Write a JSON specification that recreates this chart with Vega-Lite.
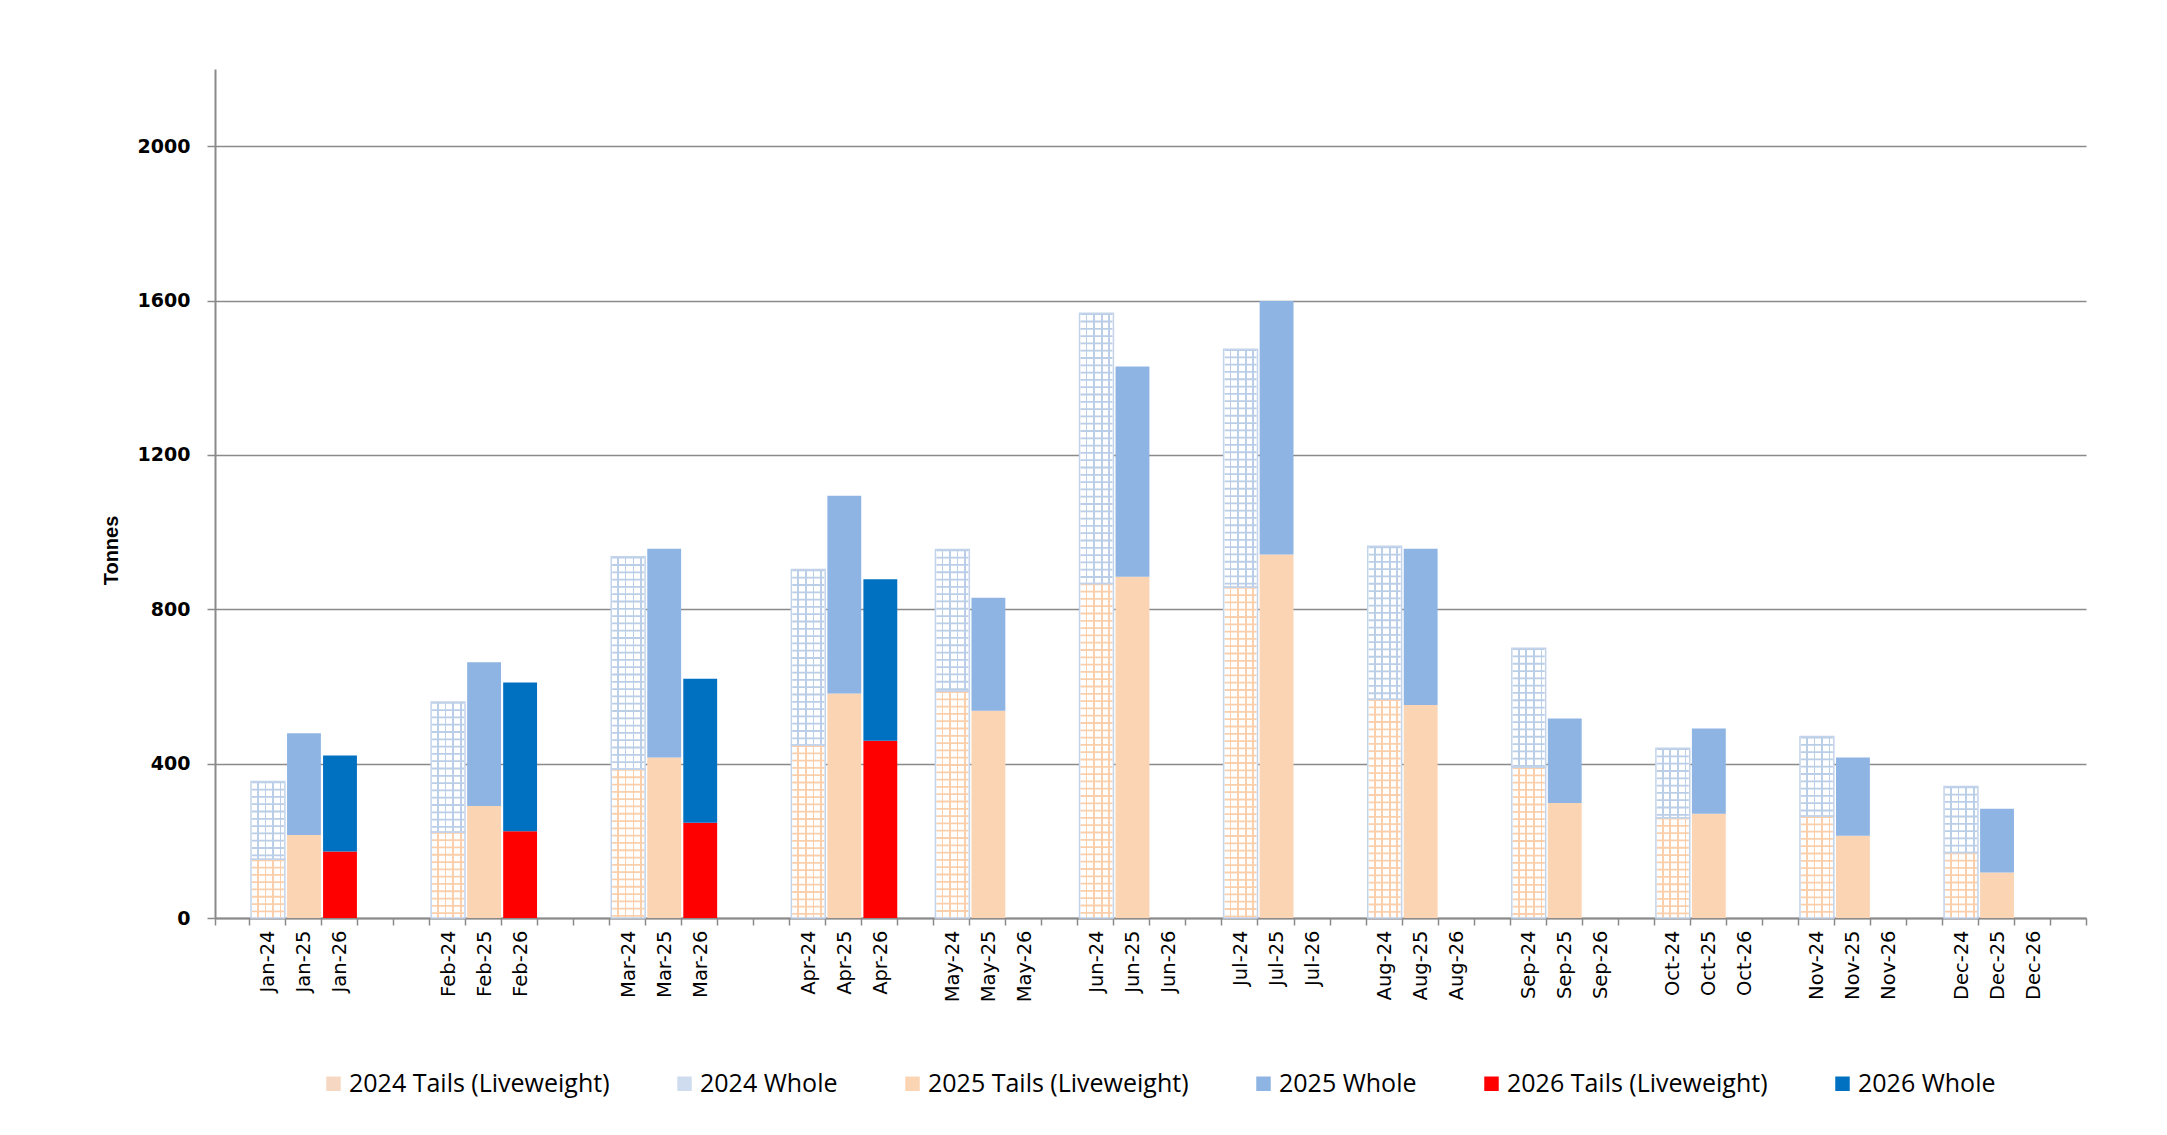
{
  "$schema": "https://vega.github.io/schema/vega-lite/v6.json",
  "width": 1871,
  "height": 849,
  "autosize": {"type": "none"},
  "padding": {"left": 215, "top": 69, "right": 81, "bottom": 217},
  "background": "white",
  "data": {
    "values": [
      {"cat": "Jan-24", "series": "2024 Tails (Liveweight)", "year": 2024, "ord": 0, "value": 152},
      {"cat": "Jan-24", "series": "2024 Whole", "year": 2024, "ord": 1, "value": 202},
      {"cat": "Jan-25", "series": "2025 Tails (Liveweight)", "year": 2025, "ord": 0, "value": 215},
      {"cat": "Jan-25", "series": "2025 Whole", "year": 2025, "ord": 1, "value": 264},
      {"cat": "Jan-26", "series": "2026 Tails (Liveweight)", "year": 2026, "ord": 0, "value": 172},
      {"cat": "Jan-26", "series": "2026 Whole", "year": 2026, "ord": 1, "value": 249},
      {"cat": "Feb-24", "series": "2024 Tails (Liveweight)", "year": 2024, "ord": 0, "value": 223},
      {"cat": "Feb-24", "series": "2024 Whole", "year": 2024, "ord": 1, "value": 337},
      {"cat": "Feb-25", "series": "2025 Tails (Liveweight)", "year": 2025, "ord": 0, "value": 290},
      {"cat": "Feb-25", "series": "2025 Whole", "year": 2025, "ord": 1, "value": 373},
      {"cat": "Feb-26", "series": "2026 Tails (Liveweight)", "year": 2026, "ord": 0, "value": 225},
      {"cat": "Feb-26", "series": "2026 Whole", "year": 2026, "ord": 1, "value": 385},
      {"cat": "Mar-24", "series": "2024 Tails (Liveweight)", "year": 2024, "ord": 0, "value": 386},
      {"cat": "Mar-24", "series": "2024 Whole", "year": 2024, "ord": 1, "value": 550},
      {"cat": "Mar-25", "series": "2025 Tails (Liveweight)", "year": 2025, "ord": 0, "value": 416},
      {"cat": "Mar-25", "series": "2025 Whole", "year": 2025, "ord": 1, "value": 541},
      {"cat": "Mar-26", "series": "2026 Tails (Liveweight)", "year": 2026, "ord": 0, "value": 247},
      {"cat": "Mar-26", "series": "2026 Whole", "year": 2026, "ord": 1, "value": 373},
      {"cat": "Apr-24", "series": "2024 Tails (Liveweight)", "year": 2024, "ord": 0, "value": 448},
      {"cat": "Apr-24", "series": "2024 Whole", "year": 2024, "ord": 1, "value": 455},
      {"cat": "Apr-25", "series": "2025 Tails (Liveweight)", "year": 2025, "ord": 0, "value": 582},
      {"cat": "Apr-25", "series": "2025 Whole", "year": 2025, "ord": 1, "value": 512},
      {"cat": "Apr-26", "series": "2026 Tails (Liveweight)", "year": 2026, "ord": 0, "value": 459},
      {"cat": "Apr-26", "series": "2026 Whole", "year": 2026, "ord": 1, "value": 419},
      {"cat": "May-24", "series": "2024 Tails (Liveweight)", "year": 2024, "ord": 0, "value": 588},
      {"cat": "May-24", "series": "2024 Whole", "year": 2024, "ord": 1, "value": 367},
      {"cat": "May-25", "series": "2025 Tails (Liveweight)", "year": 2025, "ord": 0, "value": 537},
      {"cat": "May-25", "series": "2025 Whole", "year": 2025, "ord": 1, "value": 293},
      {"cat": "Jun-24", "series": "2024 Tails (Liveweight)", "year": 2024, "ord": 0, "value": 867},
      {"cat": "Jun-24", "series": "2024 Whole", "year": 2024, "ord": 1, "value": 700},
      {"cat": "Jun-25", "series": "2025 Tails (Liveweight)", "year": 2025, "ord": 0, "value": 884},
      {"cat": "Jun-25", "series": "2025 Whole", "year": 2025, "ord": 1, "value": 545},
      {"cat": "Jul-24", "series": "2024 Tails (Liveweight)", "year": 2024, "ord": 0, "value": 858},
      {"cat": "Jul-24", "series": "2024 Whole", "year": 2024, "ord": 1, "value": 616},
      {"cat": "Jul-25", "series": "2025 Tails (Liveweight)", "year": 2025, "ord": 0, "value": 942},
      {"cat": "Jul-25", "series": "2025 Whole", "year": 2025, "ord": 1, "value": 657},
      {"cat": "Aug-24", "series": "2024 Tails (Liveweight)", "year": 2024, "ord": 0, "value": 567},
      {"cat": "Aug-24", "series": "2024 Whole", "year": 2024, "ord": 1, "value": 396},
      {"cat": "Aug-25", "series": "2025 Tails (Liveweight)", "year": 2025, "ord": 0, "value": 552},
      {"cat": "Aug-25", "series": "2025 Whole", "year": 2025, "ord": 1, "value": 405},
      {"cat": "Sep-24", "series": "2024 Tails (Liveweight)", "year": 2024, "ord": 0, "value": 391},
      {"cat": "Sep-24", "series": "2024 Whole", "year": 2024, "ord": 1, "value": 308},
      {"cat": "Sep-25", "series": "2025 Tails (Liveweight)", "year": 2025, "ord": 0, "value": 298},
      {"cat": "Sep-25", "series": "2025 Whole", "year": 2025, "ord": 1, "value": 219},
      {"cat": "Oct-24", "series": "2024 Tails (Liveweight)", "year": 2024, "ord": 0, "value": 260},
      {"cat": "Oct-24", "series": "2024 Whole", "year": 2024, "ord": 1, "value": 180},
      {"cat": "Oct-25", "series": "2025 Tails (Liveweight)", "year": 2025, "ord": 0, "value": 270},
      {"cat": "Oct-25", "series": "2025 Whole", "year": 2025, "ord": 1, "value": 221},
      {"cat": "Nov-24", "series": "2024 Tails (Liveweight)", "year": 2024, "ord": 0, "value": 264},
      {"cat": "Nov-24", "series": "2024 Whole", "year": 2024, "ord": 1, "value": 206},
      {"cat": "Nov-25", "series": "2025 Tails (Liveweight)", "year": 2025, "ord": 0, "value": 213},
      {"cat": "Nov-25", "series": "2025 Whole", "year": 2025, "ord": 1, "value": 203},
      {"cat": "Dec-24", "series": "2024 Tails (Liveweight)", "year": 2024, "ord": 0, "value": 170},
      {"cat": "Dec-24", "series": "2024 Whole", "year": 2024, "ord": 1, "value": 171},
      {"cat": "Dec-25", "series": "2025 Tails (Liveweight)", "year": 2025, "ord": 0, "value": 118},
      {"cat": "Dec-25", "series": "2025 Whole", "year": 2025, "ord": 1, "value": 165}
    ]
  },
  "encoding": {
    "x": {
      "field": "cat",
      "type": "nominal",
      "title": null,
      "scale": {
        "domain": ["_1", "Jan-24", "Jan-25", "Jan-26", "_2", "_3", "Feb-24", "Feb-25", "Feb-26", "_4", "_5", "Mar-24", "Mar-25", "Mar-26", "_6", "_7", "Apr-24", "Apr-25", "Apr-26", "_8", "May-24", "May-25", "May-26", "_9", "Jun-24", "Jun-25", "Jun-26", "_10", "Jul-24", "Jul-25", "Jul-26", "_11", "Aug-24", "Aug-25", "Aug-26", "_12", "Sep-24", "Sep-25", "Sep-26", "_13", "Oct-24", "Oct-25", "Oct-26", "_14", "Nov-24", "Nov-25", "Nov-26", "_15", "Dec-24", "Dec-25", "Dec-26", "_16"],
        "paddingInner": 0.06,
        "paddingOuter": 0
      }
    }
  },
  "layer": [
    {
      "mark": {"type": "bar"},
      "encoding": {
        "y": {
          "field": "value",
          "type": "quantitative",
          "stack": "zero",
          "title": "Tonnes",
          "scale": {"domain": [0, 2200], "nice": false},
          "axis": {"values": [0, 400, 800, 1200, 1600, 2000], "format": "d"}
        },
        "fill": {
          "field": "series",
          "type": "nominal",
          "condition": {"test": "datum.year == 2024", "value": "#ffffff"},
          "scale": {
            "domain": ["2024 Tails (Liveweight)", "2024 Whole", "2025 Tails (Liveweight)", "2025 Whole", "2026 Tails (Liveweight)", "2026 Whole"],
            "range": ["#f6d8c2", "#cfdcef", "#fbd4b4", "#8eb4e3", "#ff0000", "#0070c0"]
          },
          "legend": {
            "title": null,
            "orient": "none",
            "legendX": 106,
            "legendY": 1002,
            "direction": "horizontal",
            "symbolType": "square",
            "symbolSize": 210,
            "symbolStrokeWidth": 0,
            "labelFont": "Open Sans",
            "labelFontSize": 25,
            "labelColor": "#000000",
            "labelOffset": 3,
            "labelLimit": 0,
            "columnPadding": 62
          }
        },
        "order": {"field": "ord", "type": "quantitative"}
      }
    },
    {
      "transform": [
        {"filter": "datum.year == 2024"},
        {"stack": "value", "groupby": ["cat"], "sort": [{"field": "ord", "order": "ascending"}], "as": ["v0", "v1"]}
      ],
      "mark": {"type": "rule", "strokeDash": [1.8, 5.5], "strokeWidth": 32},
      "encoding": {
        "y": {"field": "v1", "type": "quantitative", "title": "Tonnes", "scale": {"domain": [0, 2200], "nice": false}},
        "y2": {"field": "v0"},
        "stroke": {
          "condition": {"test": "datum.series === '2024 Whole'", "value": "#bacee8"},
          "value": "#fbcfab"
        }
      }
    },
    {
      "transform": [
        {"filter": "datum.year == 2024"},
        {"stack": "value", "groupby": ["cat"], "sort": [{"field": "ord", "order": "ascending"}], "as": ["v0", "v1"]}
      ],
      "mark": {"type": "bar", "stroke": "#c3d3ea", "strokeWidth": 1.5},
      "encoding": {
        "y": {"field": "v1", "type": "quantitative", "title": "Tonnes", "scale": {"domain": [0, 2200], "nice": false}},
        "y2": {"field": "v0"},
        "fill": {
          "condition": {
            "test": "datum.series === '2024 Whole'",
            "value": {
              "gradient": "linear", "x1": 0, "y1": 0, "x2": 1, "y2": 0,
              "stops": [
                {"offset": 0, "color": "rgba(255,255,255,0)"},
                {"offset": 0.18, "color": "rgba(255,255,255,0)"},
                {"offset": 0.18, "color": "#bacee8"},
                {"offset": 0.23, "color": "#bacee8"},
                {"offset": 0.23, "color": "rgba(255,255,255,0)"},
                {"offset": 0.40, "color": "rgba(255,255,255,0)"},
                {"offset": 0.40, "color": "#bacee8"},
                {"offset": 0.45, "color": "#bacee8"},
                {"offset": 0.45, "color": "rgba(255,255,255,0)"},
                {"offset": 0.63, "color": "rgba(255,255,255,0)"},
                {"offset": 0.63, "color": "#bacee8"},
                {"offset": 0.68, "color": "#bacee8"},
                {"offset": 0.68, "color": "rgba(255,255,255,0)"},
                {"offset": 0.85, "color": "rgba(255,255,255,0)"},
                {"offset": 0.85, "color": "#bacee8"},
                {"offset": 0.90, "color": "#bacee8"},
                {"offset": 0.90, "color": "rgba(255,255,255,0)"},
                {"offset": 1, "color": "rgba(255,255,255,0)"}
              ]
            }
          },
          "value": {
            "gradient": "linear", "x1": 0, "y1": 0, "x2": 1, "y2": 0,
            "stops": [
              {"offset": 0, "color": "rgba(255,255,255,0)"},
              {"offset": 0.18, "color": "rgba(255,255,255,0)"},
              {"offset": 0.18, "color": "#fbcfab"},
              {"offset": 0.23, "color": "#fbcfab"},
              {"offset": 0.23, "color": "rgba(255,255,255,0)"},
              {"offset": 0.40, "color": "rgba(255,255,255,0)"},
              {"offset": 0.40, "color": "#fbcfab"},
              {"offset": 0.45, "color": "#fbcfab"},
              {"offset": 0.45, "color": "rgba(255,255,255,0)"},
              {"offset": 0.63, "color": "rgba(255,255,255,0)"},
              {"offset": 0.63, "color": "#fbcfab"},
              {"offset": 0.68, "color": "#fbcfab"},
              {"offset": 0.68, "color": "rgba(255,255,255,0)"},
              {"offset": 0.85, "color": "rgba(255,255,255,0)"},
              {"offset": 0.85, "color": "#fbcfab"},
              {"offset": 0.90, "color": "#fbcfab"},
              {"offset": 0.90, "color": "rgba(255,255,255,0)"},
              {"offset": 1, "color": "rgba(255,255,255,0)"}
            ]
          }
        }
      }
    }
  ],
  "config": {
    "view": {"stroke": null},
    "axisX": {
      "labelExpr": "indexof(datum.label, '_') == 0 ? '' : datum.label",
      "labelAngle": 270,
      "labelAlign": "right",
      "labelBaseline": "middle",
      "labelFont": "DejaVu Sans",
      "labelFontSize": 19.5,
      "labelColor": "#000000",
      "labelPadding": 5,
      "tickBand": "extent",
      "tickSize": 7,
      "tickWidth": 1.5,
      "tickColor": "#8a8a8a",
      "domainColor": "#8a8a8a",
      "domainWidth": 2,
      "grid": false
    },
    "axisY": {
      "grid": true,
      "gridColor": "#8a8a8a",
      "gridWidth": 1.5,
      "domainColor": "#8a8a8a",
      "domainWidth": 2,
      "tickColor": "#8a8a8a",
      "tickSize": 8,
      "tickWidth": 1.5,
      "labelFont": "DejaVu Sans",
      "labelFontWeight": "bold",
      "labelFontSize": 19,
      "labelColor": "#000000",
      "labelPadding": 17,
      "titleFont": "Liberation Sans",
      "titleFontSize": 20,
      "titleFontWeight": "bold",
      "titleColor": "#000000",
      "titleAngle": 270,
      "titleX": -104,
      "titleY": 481,
      "titleAlign": "center",
      "titleBaseline": "middle"
    }
  }
}
